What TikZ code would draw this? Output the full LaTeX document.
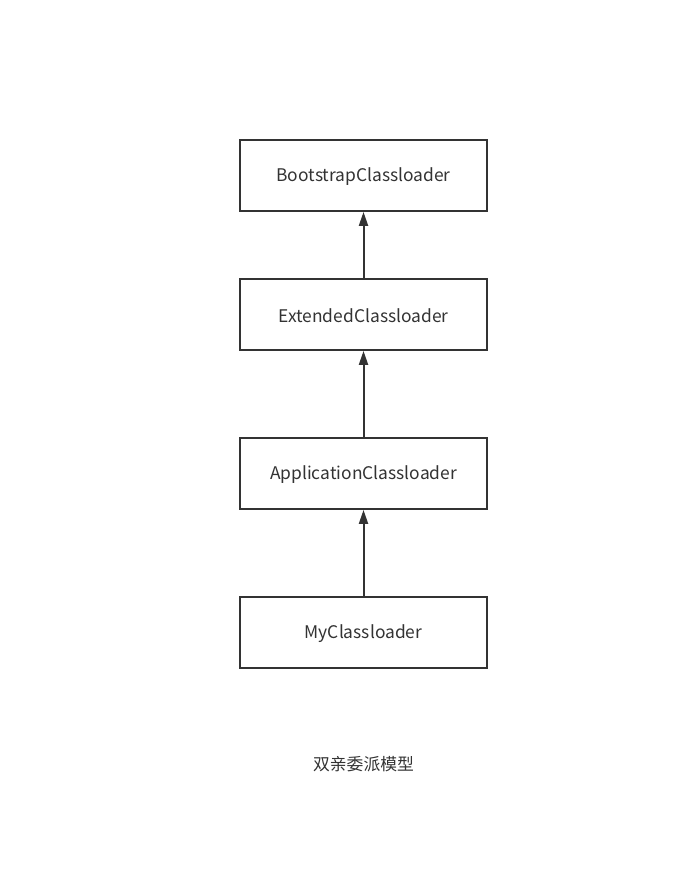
\documentclass[tikz,border=0pt]{standalone}
\usepackage{fontspec}
\setmainfont{Noto Sans CJK SC}
\usetikzlibrary{arrows.meta}
\definecolor{ink}{HTML}{333333}
\begin{document}
\begin{tikzpicture}[x=1pt,y=1pt,
  box/.style={draw=ink, line width=1.8pt, minimum width=247pt, minimum height=71pt, inner sep=0pt, text=ink, font=\fontsize{17.4}{20}\selectfont},
  lbl/.style={text=ink, font=\fontsize{17.4}{20}\selectfont, inner sep=0pt},
  conn/.style={draw=ink, line width=2pt, -{Triangle[length=14pt,width=9pt]}}]
\useasboundingbox (0,0) rectangle (674,893);
\node[box] (boot) at (363.5,717.5) {};
\node[box] (ext) at (363.5,578.5) {};
\node[box] (app) at (363.5,419.5) {};
\node[box] (my) at (363.5,260.5) {};
\node[lbl] (tboot) at ([yshift=-1.5pt]boot.center) {BootstrapClassloader};
\node[lbl] (text) at ([yshift=-1.5pt]ext.center) {ExtendedClassloader};
\node[lbl] (tapp) at ([yshift=-1.5pt]app.center) {ApplicationClassloader};
\node[lbl] (tmy) at ([yshift=-1.5pt]my.center) {MyClassloader};
\draw[conn] (ext) -- (boot);
\draw[conn] (app) -- (ext);
\draw[conn] (my) -- (app);
\node[lbl, font=\fontsize{16.8}{20}\selectfont] (cap) at (363.5,129) {双亲委派模型};
\end{tikzpicture}
\end{document}
